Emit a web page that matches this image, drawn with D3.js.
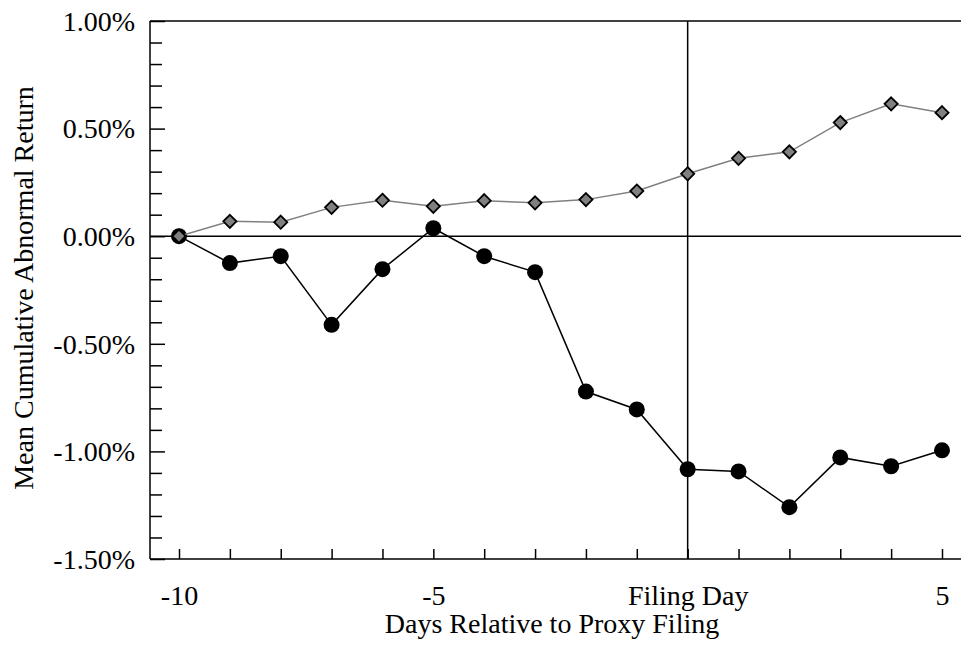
<!DOCTYPE html>
<html>
<head>
<meta charset="utf-8">
<script src="https://cdn.jsdelivr.net/npm/d3@7"></script>
<style>
  body { margin: 0; background: #fff; }
  svg text { font-family: "Liberation Serif", "Times New Roman", serif; fill: #000; }
</style>
</head>
<body>
<div id="chart"></div>
<script>
// Data
const days = [-10, -9, -8, -7, -6, -5, -4, -3, -2, -1, 0, 1, 2, 3, 4, 5];
const diamondSeries = [0.000, 0.069, 0.065, 0.134, 0.167, 0.139, 0.165, 0.155, 0.170, 0.210, 0.290, 0.362, 0.392, 0.528, 0.615, 0.574];
const circleSeries = [0.000, -0.125, -0.093, -0.412, -0.153, 0.037, -0.093, -0.167, -0.722, -0.805, -1.083, -1.093, -1.259, -1.028, -1.069, -0.995];
const yMajorTicks = [1.0, 0.5, 0.0, -0.5, -1.0, -1.5];
const xLabels = { "-10": "-10", "-5": "-5", "0": "Filing Day", "5": "5" };

const W = 961, H = 645;
const plotLeft = 150, plotRight = 961, plotTop = 21, plotBottom = 559;
const fontSize = 28;

const svg = d3.select("#chart").append("svg")
    .attr("width", W)
    .attr("height", H);

// Scales
const x = d3.scaleLinear().domain([-10, 5]).range([179, 942]);
const y = d3.scaleLinear().domain([-1.5, 1.0]).range([plotBottom, plotTop]);

// Minor y ticks (every 0.1%)
const minor = d3.range(-14, 10).map(d => d / 10).filter(v => Math.abs(v * 2 - Math.round(v * 2)) > 1e-6);
svg.append("g")
    .attr("transform", `translate(${plotLeft},0)`)
    .call(d3.axisLeft(y).tickValues(minor).tickSize(-12).tickFormat(""))
    .call(g => g.select(".domain").remove())
    .selectAll("line").attr("stroke", "#000").attr("stroke-width", 1.5);

// Major y ticks + labels
svg.append("g")
    .attr("transform", `translate(${plotLeft},0)`)
    .call(d3.axisLeft(y).tickValues(yMajorTicks).tickSize(-15).tickPadding(15)
        .tickFormat(d => d3.format(".2f")(d).replace("−", "-") + "%"))
    .call(g => g.select(".domain").remove())
    .call(g => g.selectAll("line").attr("stroke", "#000").attr("stroke-width", 1.5))
    .call(g => g.selectAll("text").attr("font-size", fontSize).attr("font-family", null).attr("dy", "0.33em"));

// X ticks + labels
svg.append("g")
    .attr("transform", `translate(0,${plotBottom})`)
    .call(d3.axisBottom(x).tickValues(days).tickSize(-10).tickPadding(26)
        .tickFormat(d => xLabels[d] || ""))
    .call(g => g.select(".domain").remove())
    .call(g => g.selectAll("line").attr("stroke", "#000").attr("stroke-width", 1.5))
    .call(g => g.selectAll("text").attr("font-size", fontSize).attr("font-family", null));

// Frame lines: left axis, bottom axis, top border
svg.append("line").attr("x1", plotLeft).attr("x2", plotLeft).attr("y1", plotTop).attr("y2", plotBottom)
    .attr("stroke", "#000").attr("stroke-width", 1.5);
svg.append("line").attr("x1", plotLeft).attr("x2", plotRight).attr("y1", plotBottom).attr("y2", plotBottom)
    .attr("stroke", "#000").attr("stroke-width", 1.5);
svg.append("line").attr("x1", plotLeft).attr("x2", plotRight).attr("y1", plotTop).attr("y2", plotTop)
    .attr("stroke", "#000").attr("stroke-width", 1.5);

// Zero line and filing day line
svg.append("line").attr("x1", plotLeft).attr("x2", plotRight).attr("y1", y(0)).attr("y2", y(0))
    .attr("stroke", "#000").attr("stroke-width", 1.5);
svg.append("line").attr("x1", x(0)).attr("x2", x(0)).attr("y1", plotTop).attr("y2", plotBottom)
    .attr("stroke", "#000").attr("stroke-width", 1.5);

const line = d3.line().x((d, i) => x(days[i])).y(d => y(d));

// Circle series
svg.append("path").datum(circleSeries)
    .attr("d", line).attr("fill", "none").attr("stroke", "#000").attr("stroke-width", 1.5);
svg.selectAll("circle.c").data(circleSeries).enter().append("circle")
    .attr("class", "c")
    .attr("cx", (d, i) => x(days[i]))
    .attr("cy", d => y(d))
    .attr("r", 8)
    .attr("fill", "#000");

// Diamond series
svg.append("path").datum(diamondSeries)
    .attr("d", line).attr("fill", "none").attr("stroke", "#808080").attr("stroke-width", 1.5);
const diamond = d3.symbol().type(d3.symbolDiamond2).size(110);
svg.selectAll("path.d").data(diamondSeries).enter().append("path")
    .attr("class", "d")
    .attr("transform", (d, i) => `translate(${x(days[i])},${y(d)})`)
    .attr("d", diamond)
    .attr("fill", "#808080")
    .attr("stroke", "#000")
    .attr("stroke-width", 1.8);

// Axis titles
svg.append("text")
    .attr("x", 552).attr("y", 633)
    .attr("text-anchor", "middle")
    .attr("font-size", fontSize)
    .text("Days Relative to Proxy Filing");

svg.append("text")
    .attr("transform", "translate(33,288) rotate(-90)")
    .attr("text-anchor", "middle")
    .attr("font-size", fontSize)
    .text("Mean Cumulative Abnormal Return");
</script>
</body>
</html>
